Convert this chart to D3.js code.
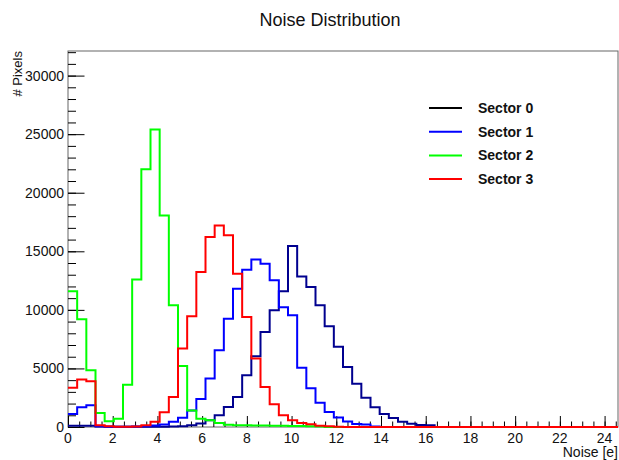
<!DOCTYPE html>
<html>
<head>
<meta charset="utf-8">
<script src="https://cdn.jsdelivr.net/npm/d3@7"></script>
<style>
  body { margin: 0; background: #fff; }
  text { font-family: "Liberation Sans", Arial, sans-serif; fill: #111; }
</style>
</head>
<body>
<div class="chart-container"></div>
<script>
const totalWidth = 619;
const totalHeight = 460;

// 60 bins of 0.41 e from 0 to 24.6
const binWidth = 0.41;
const nBins = 60;

const sectors = ['Sector 0', 'Sector 1', 'Sector 2', 'Sector 3'];
const colors = ['#00008f', '#0000ff', '#00ff00', '#ff0000'];
const legendColors = ['#000000', '#0000ff', '#00ff00', '#ff0000'];

const sector0 = [100, 100, 100, 40, 30, 30, 30, 30, 30, 30, 30, 40, 60, 150, 300, 580, 1000, 1710, 2570, 4420,
  6040, 8110, 9960, 11600, 15450, 12850, 11950, 10390, 8600, 6860, 5130, 3700, 2500, 1680, 1100, 760, 450, 280, 170, 160];
const sector1 = [1100, 1680, 1860, 60, 30, 30, 30, 40, 60, 120, 220, 440, 800, 1400, 2400, 4150, 6550, 9250, 11800, 13430,
  14310, 13940, 12520, 10220, 9540, 5050, 3300, 2060, 1290, 820, 470, 250, 220, 40];
const sector2 = [11600, 9200, 4850, 1200, 500, 700, 3600, 12600, 22000, 25400, 18050, 10400, 5200, 1400, 700, 580, 350, 200, 150, 150,
  130, 120, 110, 100, 90, 80, 60, 40];
const sector3 = [3350, 4050, 3900, 150, 60, 30, 20, 50, 150, 440, 1260, 2570, 6700, 9450, 13230, 16220, 17210, 16360, 13090, 9390,
  5840, 3420, 1950, 1000, 580, 350, 240, 100, 60, 30];

const seriesValues = [sector0, sector1, sector2, sector3];

const xTicks = [0, 2, 4, 6, 8, 10, 12, 14, 16, 18, 20, 22, 24];
const yTicks = [0, 5000, 10000, 15000, 20000, 25000, 30000];

const frameLeft = 68, frameRight = 618, frameTop = 51, frameBottom = 427;

const svg = d3.select('.chart-container')
  .append('svg')
  .attr('width', totalWidth)
  .attr('height', totalHeight);

const scaleX = d3.scaleLinear().domain([0, binWidth * nBins]).range([frameLeft, frameRight]);
const scaleY = d3.scaleLinear().domain([0, 32100]).range([frameBottom, frameTop]);

// frame
svg.append('rect')
  .attr('x', frameLeft).attr('y', frameTop)
  .attr('width', frameRight - frameLeft).attr('height', frameBottom - frameTop)
  .attr('fill', 'none').attr('stroke', '#666').attr('stroke-width', 1);

// x axis (ticks point up into the frame)
const xAxis = svg.append('g').attr('transform', `translate(0,${frameBottom})`);
xAxis.call(d3.axisTop(scaleX).tickValues(d3.range(0, 24.6, 0.5)).tickSize(5.5).tickFormat(''));
xAxis.call(g => g.select('.domain').remove());
const xMajor = svg.append('g').attr('transform', `translate(0,${frameBottom})`);
xMajor.call(d3.axisTop(scaleX).tickValues(xTicks).tickSize(11).tickFormat(''));
xMajor.call(g => g.select('.domain').remove());
svg.append('g').selectAll('text')
  .data(xTicks).enter().append('text')
  .attr('x', d => scaleX(d)).attr('y', frameBottom + 15.5)
  .attr('text-anchor', 'middle').attr('font-size', 14)
  .text(d => d);

// y axis (ticks point right into the frame)
const yAxis = svg.append('g').attr('transform', `translate(${frameLeft},0)`);
yAxis.call(d3.axisRight(scaleY).tickValues(d3.range(0, 32001, 1000)).tickSize(8).tickFormat(''));
yAxis.call(g => g.select('.domain').remove());
const yMajor = svg.append('g').attr('transform', `translate(${frameLeft},0)`);
yMajor.call(d3.axisRight(scaleY).tickValues(yTicks).tickSize(16.5).tickFormat(''));
yMajor.call(g => g.select('.domain').remove());
svg.append('g').selectAll('text')
  .data(yTicks).enter().append('text')
  .attr('x', frameLeft - 4).attr('y', d => scaleY(d) + 5)
  .attr('text-anchor', 'end').attr('font-size', 14)
  .text(d => d);

svg.selectAll('.tick line').attr('stroke', '#000');

// histograms
const line = d3.line()
  .x(d => scaleX(d[0]))
  .y(d => scaleY(d[1]))
  .curve(d3.curveStepAfter);

seriesValues.forEach((vals, k) => {
  const full = d3.range(nBins).map(i => vals[i] || 0);
  const pts = full.map((v, i) => [i * binWidth, v]);
  pts.push([nBins * binWidth, full[nBins - 1]]);
  svg.append('path')
    .datum(pts)
    .attr('fill', 'none')
    .attr('stroke', colors[k])
    .attr('stroke-width', 2)
    .attr('d', line);
});

// titles
svg.append('text')
  .attr('x', 330).attr('y', 26)
  .attr('text-anchor', 'middle').attr('font-size', 18)
  .text('Noise Distribution');
svg.append('text')
  .attr('x', frameRight).attr('y', 457)
  .attr('text-anchor', 'end').attr('font-size', 14)
  .text('Noise [e]');
svg.append('text')
  .attr('transform', `translate(22,${frameTop}) rotate(-90)`)
  .attr('text-anchor', 'end').attr('font-size', 13)
  .text('# Pixels');

// legend
const legend = svg.append('g');
sectors.forEach((s, i) => {
  const y = 108 + i * 23.7;
  legend.append('line')
    .attr('x1', 429).attr('x2', 462).attr('y1', y).attr('y2', y)
    .attr('stroke', legendColors[i]).attr('stroke-width', 2);
  legend.append('text')
    .attr('x', 478).attr('y', y + 5)
    .attr('font-size', 14).attr('font-weight', 'bold')
    .text(s);
});
</script>
</body>
</html>
